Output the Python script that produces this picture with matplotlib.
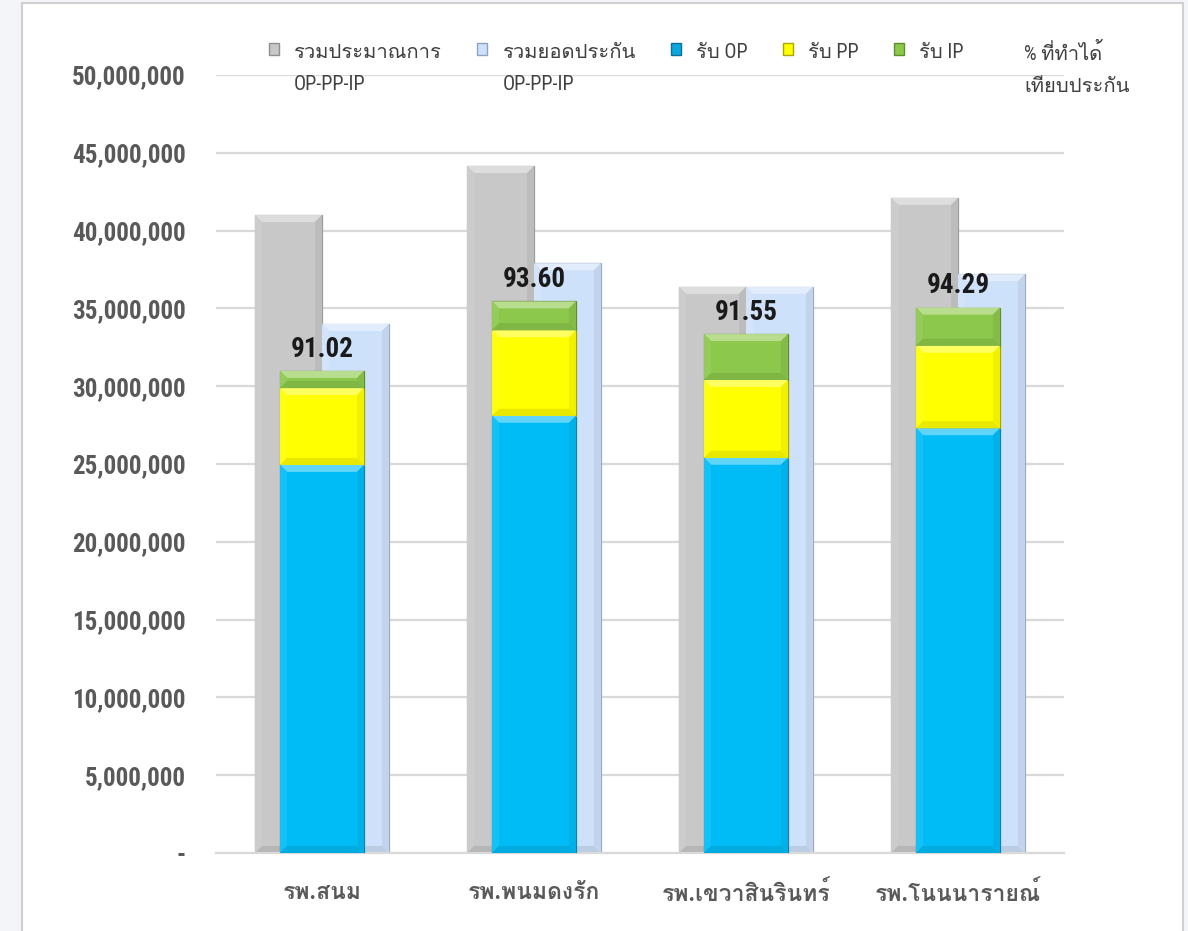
import matplotlib
matplotlib.use("Agg")
import matplotlib.pyplot as plt
from matplotlib import font_manager as fm
from matplotlib.lines import Line2D
from matplotlib.patches import Patch, Rectangle, Polygon
from matplotlib.ticker import FuncFormatter
from matplotlib.colors import to_rgb

# ---------------- data ----------------
hospitals = ["รพ.สนม", "รพ.พนมดงรัก", "รพ.เขวาสินรินทร์", "รพ.โนนนารายณ์"]
estimate_total = [41000000, 44150000, 36380000, 42100000]   # รวมประมาณการ OP-PP-IP
insured_total = [34000000, 37900000, 36380000, 37200000]    # รวมยอดประกัน OP-PP-IP
recv_op = [24940000, 28100000, 25400000, 27300000]
recv_pp = [4940000, 5500000, 5000000, 5300000]
recv_ip = [1100000, 1850000, 2950000, 2450000]
pct_vs_insured = [91.02, 93.60, 91.55, 94.29]
yticks = [0, 5000000, 10000000, 15000000, 20000000, 25000000,
          30000000, 35000000, 40000000, 45000000, 50000000]
legend_labels = ["รวมประมาณการ\nOP-PP-IP", "รวมยอดประกัน\nOP-PP-IP",
                 "รับ OP", "รับ PP", "รับ IP", "% ที่ทำได้\nเทียบประกัน"]

# ---------------- fonts ----------------
def find_fonts():
    thai_regular, thai_bold = None, None
    try:
        from fontTools.ttLib import TTFont
    except Exception:
        TTFont = None
    for f in fm.fontManager.ttflist:
        ok = False
        if TTFont is not None:
            try:
                tt = TTFont(f.fname, fontNumber=0, lazy=True)
                cmap = tt.getBestCmap() or {}
                ok = (0x0E23 in cmap and 0x0E19 in cmap and 0x0E1E in cmap)
            except Exception:
                ok = False
        if ok:
            if f.weight in ("bold", 700, "heavy") or (isinstance(f.weight, int) and f.weight >= 600):
                thai_bold = thai_bold or f.name
            else:
                thai_regular = thai_regular or f.name
    return thai_regular or thai_bold, thai_bold or thai_regular

thai_reg, thai_bold = find_fonts()
names = {f.name for f in fm.fontManager.ttflist}
narrow = None
for cand in ["Liberation Sans Narrow", "Roboto Condensed", "Open Sans Condensed",
             "DejaVu Sans Condensed", "Noto Sans Condensed"]:
    if cand in names:
        narrow = cand
        break
if narrow is None:
    for n in sorted(names):
        if "Narrow" in n or "Condensed" in n:
            narrow = n
            break
has_narrow = narrow is not None
if narrow is None:
    narrow = "Liberation Sans"
num_scale = 1.0 if has_narrow else 0.87

def fam(*first):
    lst = [x for x in first if x]
    lst += ["DejaVu Sans"]
    return lst

plt.rcParams["font.family"] = fam(narrow, thai_reg)

# ---------------- figure ----------------
fig = plt.figure(figsize=(11.88, 9.31), dpi=100)
fig.patch.set_facecolor("#F3F5F8")
fig.patches.append(Rectangle((22 / 1188, -0.01), (1183 - 22) / 1188, 1 - 3 / 931 + 0.01,
                             transform=fig.transFigure, facecolor="white",
                             edgecolor="#D0D0D0", linewidth=1.5, zorder=-5))

ax = fig.add_axes([216 / 1188, 1 - 853 / 931, (1064 - 216) / 1188, (853 - 75) / 931])
ax.set_zorder(2)
ax.set_facecolor("none")
ax.set_xlim(-0.5, len(hospitals) - 0.5)
ax.set_ylim(0, 50000000)

x = list(range(len(hospitals)))
w_back = 0.316
w_front = 0.396

c_grey, c_lblue = "#C8C8C8", "#CEE1FA"
c_op, c_pp, c_ip = "#00BCF6", "#FFFF00", "#8CC84B"

grey_bars = ax.bar([i - w_back / 2 for i in x], estimate_total, width=w_back,
                   color=c_grey, edgecolor="#9C9C9C", linewidth=0.9, zorder=2)
blue_bars = ax.bar([i + w_back / 2 for i in x], insured_total, width=w_back,
                   color=c_lblue, edgecolor="#9AABC4", linewidth=0.9, zorder=2)

op_bars = ax.bar(x, recv_op, width=w_front, color=c_op,
                 edgecolor="#167FA3", linewidth=0.9, zorder=3)
pp_bars = ax.bar(x, recv_pp, width=w_front, bottom=recv_op, color=c_pp,
                 edgecolor="#A6A600", linewidth=0.9, zorder=3)
bottom_ip = [a + b for a, b in zip(recv_op, recv_pp)]
ip_bars = ax.bar(x, recv_ip, width=w_front, bottom=bottom_ip, color=c_ip,
                 edgecolor="#5E8F2A", linewidth=0.9, zorder=3)

# bevel shading on each bar patch (style only, geometry taken from the bars)
ext = ax.get_window_extent()
ppx = ext.width / (ax.get_xlim()[1] - ax.get_xlim()[0])
ppy = ext.height / (ax.get_ylim()[1] - ax.get_ylim()[0])

def mix(c, t, f):
    a, b = to_rgb(c), to_rgb(t)
    return tuple(a[i] * (1 - f) + b[i] * f for i in range(3))

def bevel(container, color, z, d=7):
    for p in container.patches:
        x0, y0 = p.get_x(), p.get_y()
        w, h = p.get_width(), p.get_height()
        x1, y1 = x0 + w, y0 + h
        dx = d / ppx
        dy = min(d / ppy, h / 2)
        polys = [
            ([(x0, y1), (x1, y1), (x1 - dx, y1 - dy), (x0 + dx, y1 - dy)], mix(color, "white", 0.38)),
            ([(x0, y0), (x0, y1), (x0 + dx, y1 - dy), (x0 + dx, y0 + dy)], mix(color, "white", 0.08)),
            ([(x1, y0), (x1, y1), (x1 - dx, y1 - dy), (x1 - dx, y0 + dy)], mix(color, "black", 0.06)),
            ([(x0, y0), (x1, y0), (x1 - dx, y0 + dy), (x0 + dx, y0 + dy)], mix(color, "black", 0.09)),
        ]
        for pts, col in polys:
            ax.add_patch(Polygon(pts, closed=True, facecolor=col, edgecolor="none", zorder=z + 0.01))

bevel(grey_bars, c_grey, 2)
bevel(blue_bars, c_lblue, 2)
bevel(op_bars, c_op, 3)
bevel(pp_bars, c_pp, 3)
bevel(ip_bars, c_ip, 3)

# percentage labels above stacked bars
tops = [a + b for a, b in zip(bottom_ip, recv_ip)]
for xi, t, p in zip(x, tops, pct_vs_insured):
    ax.annotate(f"{p:.2f}", xy=(xi, t), xytext=(0, 6), textcoords="offset points",
                ha="center", va="bottom", fontsize=19.5 * num_scale, fontweight="bold",
                color="#1A1A1A", family=fam(narrow), zorder=5)

# axes styling
ax.set_yticks(yticks)
ax.yaxis.set_major_formatter(FuncFormatter(lambda v, p: "-" if v == 0 else f"{int(v):,}"))
ax.grid(axis="y", color="#D9D9D9", linewidth=1.6, zorder=0)
ax.set_axisbelow(True)
for s in ["top", "right", "left"]:
    ax.spines[s].set_visible(False)
ax.spines["bottom"].set_color("#D9D9D9")
ax.spines["bottom"].set_linewidth(1.6)
ax.tick_params(axis="y", length=0, pad=22, labelsize=18 * num_scale, labelcolor="#595959")
ax.tick_params(axis="x", length=0, pad=20, labelsize=16.5, labelcolor="#595959")
for lab in ax.get_yticklabels():
    lab.set_fontweight("bold")
    lab.set_family(fam(narrow))
ax.set_xticks(x)
ax.set_xticklabels(hospitals, fontweight="bold", family=fam(narrow, thai_bold))

# legend
handles = [
    Patch(facecolor=c_grey, edgecolor="#8F8F8F"),
    Patch(facecolor=c_lblue, edgecolor="#8FA3C0"),
    Patch(facecolor="#0AA6E0", edgecolor="#0A6F98"),
    Patch(facecolor=c_pp, edgecolor="#A8A800"),
    Patch(facecolor=c_ip, edgecolor="#5E8F2A"),
    Line2D([], [], linestyle="none"),
]
leg = fig.legend(handles, legend_labels, ncol=6, loc="upper left",
                 bbox_to_anchor=(259 / 1188, 1 - 33 / 931), frameon=False,
                 handlelength=0.5, handleheight=0.5,
                 handletextpad=0.75, columnspacing=1.75, borderpad=0,
                 labelcolor="#404040", prop={"family": fam(narrow, thai_reg), "size": 14.5})
for t in leg.get_texts():
    t.set_linespacing(1.85)
try:
    leg._legend_handle_box.align = "top"
    for col in leg._legend_handle_box.get_children():
        for item in col.get_children():
            item.align = "top"
except Exception:
    pass

fig.savefig("out.png", dpi=100, facecolor=fig.get_facecolor())
